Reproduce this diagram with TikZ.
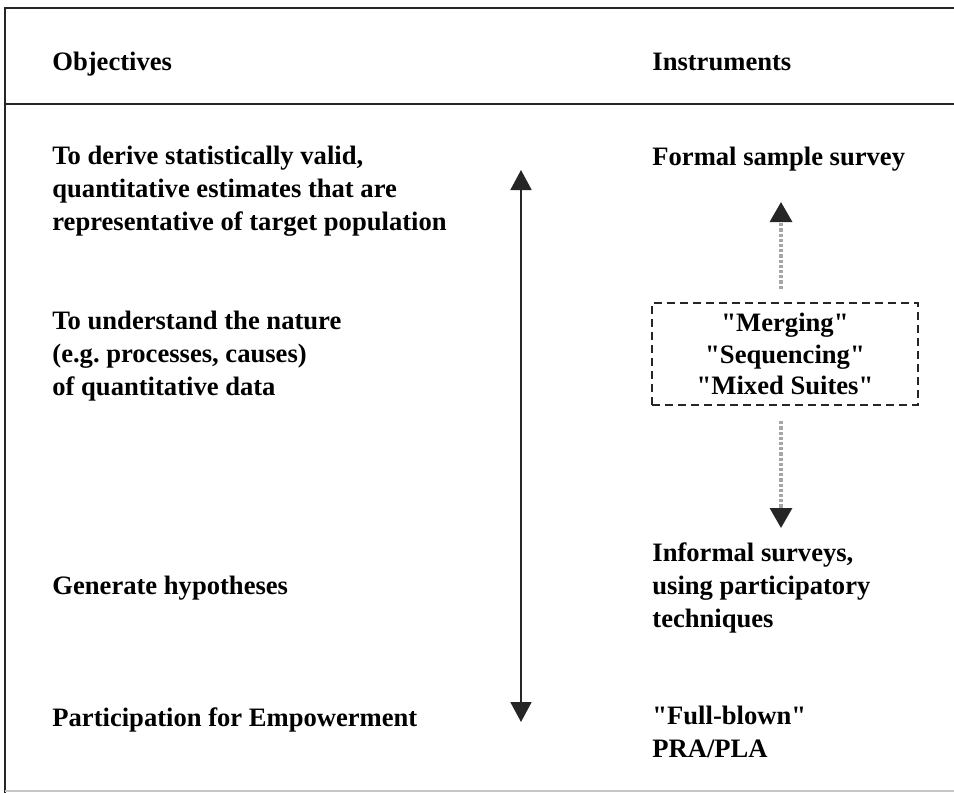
\documentclass[tikz,border=0pt]{standalone}
\usepackage{fontspec}
\setmainfont{Liberation Serif}[Ligatures=TeXOff]
\usetikzlibrary{arrows.meta}
\begin{document}
\frenchspacing
\begin{tikzpicture}[x=0.5pt,y=-0.5pt,
  txt/.style={font=\fontsize{13.3}{16.5}\selectfont\bfseries, align=left, inner sep=0pt, anchor=base west},
  frame/.style={line width=1.3pt, black!85},
  mainarrow/.style={line width=0.9pt, black!85, {Triangle[width=10.5pt,length=10pt]}-{Triangle[width=10.5pt,length=10pt]}},
  dotarrow/.style={line width=1.6pt, gray!70, densely dotted, -{Triangle[width=11pt,length=10pt,color=black!85]}},
  mixbox/.style={draw=black!85, line width=1.2pt, dash pattern=on 4pt off 2.5pt, minimum width=133pt, minimum height=51pt, inner sep=0pt, align=center, font=\fontsize{13.3}{15.75}\selectfont\bfseries},
]
\useasboundingbox (0,0) rectangle (954,793);
% frame
\draw[frame] (954,8) -- (5,8) -- (5,793);
\draw[frame] (5,104) -- (954,104);
\draw[gray!45, line width=0.8pt] (5,791) -- (954,791);
% headers
\node[txt] (obj) at (52,70) {Objectives};
\node[txt] (ins) at (652,70) {Instruments};
% objectives (anchor = baseline of last line)
\node[txt] (o1) at (52,230) {To derive statistically valid,\\quantitative estimates that are\\representative of target population};
\node[txt] (o2) at (52,395) {To understand the nature\\(e.g. processes, causes)\\of quantitative data};
\node[txt] (o3) at (52,594) {Generate hypotheses};
\node[txt] (o4) at (52,726) {Participation for Empowerment};
% instruments
\node[txt] (i1) at (652,165) {Formal sample survey};
\node[mixbox] (box) at (785,354) {"Merging"\\"Sequencing"\\"Mixed Suites"};
\node[txt] (i3) at (652,627) {Informal surveys,\\using participatory\\techniques};
\node[txt] (i4) at (652,757) {"Full-blown"\\PRA/PLA};
% arrows
\coordinate (mtop) at (521,170);
\coordinate (mbot) at (521,722);
\draw[mainarrow] (mtop) -- (mbot);
\coordinate (upTip) at (781,202);
\coordinate (downTip) at (781,528);
\draw[dotarrow, shorten <=6.5pt] (box.north -| upTip) -- (upTip);
\draw[dotarrow, shorten <=7.5pt] (box.south -| downTip) -- (downTip);
\end{tikzpicture}
\end{document}
